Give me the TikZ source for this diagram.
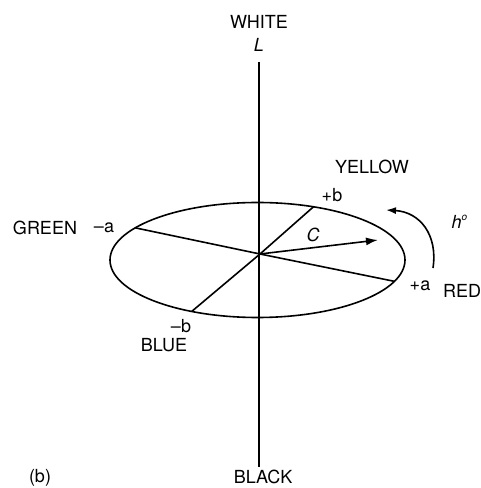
\documentclass[tikz,border=0pt]{standalone}
\usepackage{fontspec}
\setmainfont{TeX Gyre Heros}
\usetikzlibrary{arrows.meta,calc,positioning}

\begin{document}
\begin{tikzpicture}[x=0.5pt,y=0.5pt,>=Latex,
    lbl/.style={inner sep=1pt,font=\fontsize{9}{10}\selectfont},
    ax/.style={line width=0.8pt}]
  \useasboundingbox (0,0) rectangle (481,488);
  % lightness axis
  \coordinate (Ltop) at (259,426);
  \coordinate (Lbot) at (259,21);
  \draw[ax] (Ltop)--(Lbot);
  \node[lbl] (white) at (259,466) {WHITE};
  \node[lbl] (lname) at (259,443) {\itshape L};
  \node[lbl] (black) at (263,11) {BLACK};
  \node[lbl] (fig) at (40,10) {(b)};
  % hue plane
  \coordinate (E) at (257.5,228);
  \coordinate (O) at (260,234);
  \draw[ax] (E) ellipse [x radius=147.5,y radius=57.5];
  \path (E) ++(146:147.5 and 57.5) coordinate (Am);
  \path (E) ++(67.7:147.5 and 57.5) coordinate (Bp);
  \path (E) ++(-21.8:147.5 and 57.5) coordinate (Ap);
  \path (E) ++(243.5:147.5 and 57.5) coordinate (Bm);
  \draw[ax] (O)--(Am);
  \draw[ax] (O)--(Bp);
  \draw[ax] (O)--(Ap);
  \draw[ax] (O)--(Bm);
  % chroma and hue angle
  \coordinate (Ctip) at (378,248);
  \draw[ax,-{Latex[length=6pt,width=4pt]}] (O)--(Ctip);
  \coordinate (Hfrom) at (433,220);
  \coordinate (Hto) at (386,278);
  \draw[ax,-{Latex[length=5pt,width=3.5pt]}] (Hfrom) .. controls (438,253) and (420,276) .. (Hto);
  \node[lbl] (cname) at (313,253) {\itshape C};
  \node[lbl] (hname) at (460,266) {\itshape h\textsuperscript{\tiny o}};
  % axis ends
  \node[lbl] (green) at (45,260) {GREEN};
  \node[lbl] (amin) at (104,260) {--a};
  \node[lbl] (yellow) at (372,321) {YELLOW};
  \node[lbl] (bplus) at (332,293) {+b};
  \node[lbl] (aplus) at (420,202) {+a};
  \node[lbl] (red) at (462,197) {RED};
  \node[lbl] (bmin) at (181,162) {--b};
  \node[lbl] (blue) at (164,143) {BLUE};
\end{tikzpicture}
\end{document}
